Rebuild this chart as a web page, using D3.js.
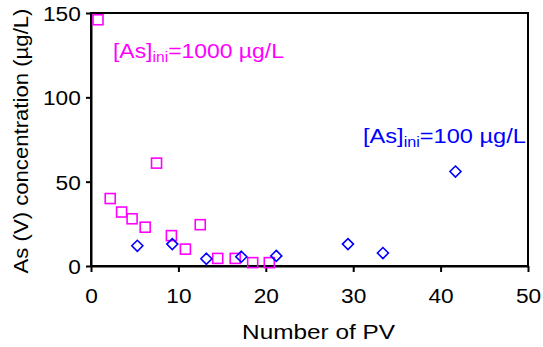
<!DOCTYPE html>
<html lang="en">
  <head>
    <meta charset="utf-8" />
    <title>As(V) vs PV</title>
    <script src="https://cdn.jsdelivr.net/npm/d3@7"></script>
    <style>
      body { margin: 0; background: #fff; }
      text { font-family: "Liberation Sans", Arial, sans-serif; }
    </style>
  </head>
  <body>
    <div id="root"></div>

    <script type="text/javascript">
      // [As]ini = 1000 ug/L (magenta squares)
      const pv1000 = [0.8, 2.2, 3.5, 4.7, 6.2, 7.5, 9.2, 10.8, 12.5, 14.5, 16.5, 18.5, 20.4];
      const as1000 = [146, 40, 32, 28, 23, 61, 18, 10, 24.5, 4.5, 4.5, 2, 2];

      // [As]ini = 100 ug/L (blue diamonds)
      const pv100 = [5.3, 9.3, 13.2, 17.2, 21.2, 29.4, 33.4, 41.7];
      const as100 = [12, 13, 4.3, 5.5, 6, 13, 7.7, 56];

      const xTicks = [0, 10, 20, 30, 40, 50];
      const yTicks = [0, 50, 100, 150];

      const width = 543;
      const height = 347;
      const marginTop = 13;
      const marginRight = 15;
      const marginBottom = 81;
      const marginLeft = 91;

      const xScale = d3.scaleLinear().domain([0, 50]).range([marginLeft, width - marginRight]);
      const yScale = d3.scaleLinear().domain([0, 150]).range([height - marginBottom, marginTop]);

      const svg = d3.select("#root").append("svg")
        .attr("width", width)
        .attr("height", height);

      // stretch a text horizontally so it covers the wanted width
      function fitWidth(t, w, x, y, rotate) {
        const natural = t.node().getComputedTextLength();
        const s = w / natural;
        const r = rotate ? ` rotate(${rotate})` : "";
        t.attr("x", 0).attr("y", 0)
          .attr("transform", `translate(${x},${y})${r} scale(${s},1)`);
      }

      // frame
      svg.append("rect")
        .attr("x", marginLeft)
        .attr("y", marginTop)
        .attr("width", width - marginRight - marginLeft)
        .attr("height", height - marginBottom - marginTop)
        .attr("fill", "none")
        .attr("stroke", "#000")
        .attr("stroke-width", 2);

      // x axis
      const xAxis = svg.append("g")
        .attr("transform", `translate(0,${height - marginBottom})`)
        .call(d3.axisBottom(xScale).tickValues(xTicks).tickSize(6).tickSizeOuter(0));
      xAxis.select(".domain").attr("stroke-width", 2);
      xAxis.selectAll(".tick line").attr("stroke-width", 2);
      xAxis.selectAll(".tick text")
        .attr("font-size", 21)
        .attr("font-family", "Liberation Sans, Arial, sans-serif")
        .attr("dy", 0)
        .attr("y", 37)
        .attr("transform", "scale(1.08,1)");

      // y axis
      const yAxis = svg.append("g")
        .attr("transform", `translate(${marginLeft},0)`)
        .call(d3.axisLeft(yScale).tickValues(yTicks).tickSize(5).tickSizeOuter(0));
      yAxis.select(".domain").attr("stroke-width", 2);
      yAxis.selectAll(".tick line").attr("stroke-width", 2);
      yAxis.selectAll(".tick text")
        .attr("font-size", 21)
        .attr("font-family", "Liberation Sans, Arial, sans-serif")
        .attr("x", -9.5)
        .attr("dy", "0.36em")
        .attr("transform", "scale(1.08,1)");

      // axis titles
      const xTitle = svg.append("text")
        .text("Number of PV")
        .attr("text-anchor", "middle")
        .attr("font-size", 20.5);
      fitWidth(xTitle, 153, 318.5, 339);

      const yTitle = svg.append("text")
        .text("As (V) concentration (\u00b5g/L)")
        .attr("text-anchor", "middle")
        .attr("font-size", 20.5);
      fitWidth(yTitle, 265, 28, 141, -90);

      // squares
      const sq = 10;
      svg.selectAll("rect.s1000")
        .data(pv1000)
        .enter()
        .append("rect")
        .attr("class", "s1000")
        .attr("x", (d) => xScale(d) - sq / 2)
        .attr("y", (d, i) => yScale(as1000[i]) - sq / 2)
        .attr("width", sq)
        .attr("height", sq)
        .attr("fill", "none")
        .attr("stroke", "#ff00ff")
        .attr("stroke-width", 1.6);

      // diamonds
      const dm = 5.5;
      svg.selectAll("path.s100")
        .data(pv100)
        .enter()
        .append("path")
        .attr("class", "s100")
        .attr("d", (d, i) => {
          const cx = xScale(d);
          const cy = yScale(as100[i]);
          return `M${cx},${cy - dm}L${cx + dm},${cy}L${cx},${cy + dm}L${cx - dm},${cy}Z`;
        })
        .attr("fill", "none")
        .attr("stroke", "#0000ff")
        .attr("stroke-width", 1.6);

      // series labels
      function label(x, y, w, color, value) {
        const t = svg.append("text")
          .attr("fill", color)
          .attr("font-size", 20.5);
        t.append("tspan").text("[As]");
        t.append("tspan").text("ini").attr("font-size", 14).attr("dy", 4);
        t.append("tspan").text(`=${value} \u00b5g/L`).attr("dy", -4);
        fitWidth(t, w, x, y);
      }
      label(113, 58, 171, "#ff00ff", 1000);
      label(363, 143, 163, "#0000ff", 100);
    </script>
  </body>
</html>
